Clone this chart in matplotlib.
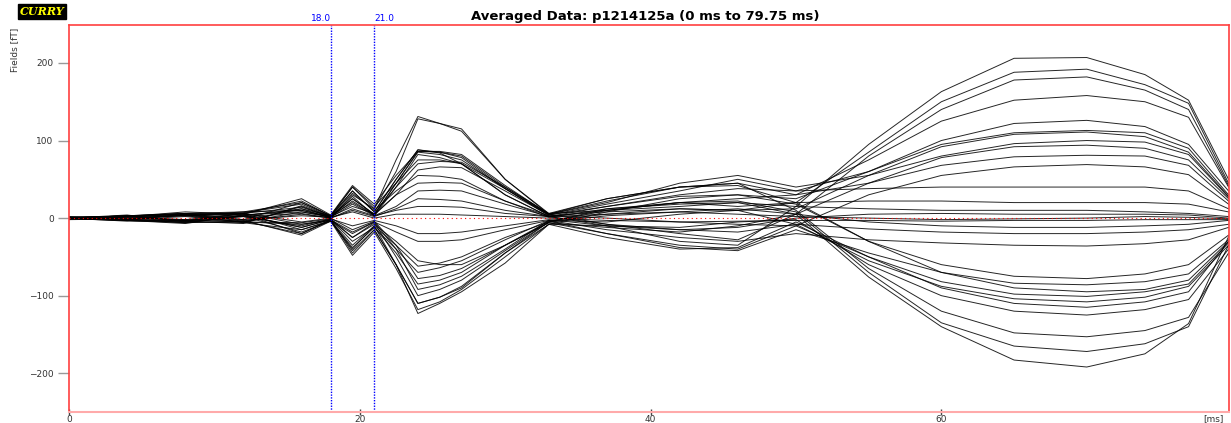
import numpy as np
import matplotlib
matplotlib.use("Agg")
import matplotlib.pyplot as plt

times = [0, 4, 8, 12, 16, 18, 19.5, 21, 22.5, 24, 25.5, 27, 30, 33, 37, 42, 46, 50, 55, 60, 65, 70, 74, 77, 79.75]

# field values (fT) per channel at the sample times
channels = [
    [0, 3, 6, -2, 20, 3, 35, 8, 50, 88, 84, 70, 30, 2, -10, -30, -35, 15, 95, 163, 206, 207, 185, 152, 50],
    [1, -2, 4, 6, -15, -4, -40, -10, -60, -110, -102, -90, -45, -5, 12, 20, 15, 20, 85, 150, 188, 192, 172, 148, 45],
    [0, 4, -5, 3, 12, 0, 30, 12, 75, 131, 122, 115, 50, 5, -8, -20, -28, 5, 80, 140, 178, 182, 165, 140, 42],
    [-1, 2, 8, 5, 25, 4, 42, 18, 55, 86, 85, 80, 40, 6, 25, 40, 45, 30, 75, 125, 152, 158, 150, 130, 40],
    [0, -3, -6, -4, -20, -2, -45, -15, -60, -123, -110, -95, -58, -8, 8, 25, 30, 25, 60, 100, 122, 126, 118, 95, 35],
    [0, 1, 3, 8, 10, 2, 25, 5, 45, 85, 82, 75, 38, 4, 18, 35, 50, 35, 60, 95, 110, 113, 110, 90, 30],
    [2, 0, -4, 6, -8, -3, -20, -5, -40, -92, -86, -75, -40, -3, -5, 5, 10, 12, 55, 92, 108, 111, 105, 85, 28],
    [0, 3, 5, -6, 15, 1, 28, 3, 40, 70, 73, 72, 40, 5, 20, 45, 55, 40, 55, 80, 96, 100, 98, 82, 27],
    [-2, -1, 4, 2, -10, -1, -25, -8, -30, -55, -60, -60, -35, -6, -12, -18, -10, 5, 45, 78, 92, 94, 90, 75, 25],
    [1, 2, -3, 4, 8, 2, 15, 6, 40, 82, 78, 70, 30, 2, 10, 20, 25, 30, 45, 68, 79, 81, 80, 68, 22],
    [0, -4, -2, 6, -5, 0, -15, -4, -35, -78, -74, -65, -35, -4, -20, -35, -40, -10, 30, 55, 66, 69, 66, 56, 18],
    [1, 2, 5, -4, 12, 3, 20, 4, 30, 62, 66, 65, 35, 4, 15, 30, 38, 35, 38, 40, 40, 40, 40, 35, 12],
    [0, -1, -6, 3, -12, -2, -30, -12, -40, -70, -64, -55, -28, -3, 5, 12, 10, 20, 22, 22, 20, 20, 20, 18, 8],
    [-1, 3, 4, 7, 18, 2, 32, 10, 35, 55, 54, 50, 22, 1, 12, 18, 20, 15, 12, 10, 10, 10, 8, 6, 2],
    [0, -2, 2, -5, -6, -1, -10, -3, -10, -20, -20, -18, -10, -2, -10, -15, -12, 0, 5, 6, 5, 5, 5, 4, 0],
    [1, 1, -3, 2, 6, 0, 10, 2, 12, 25, 24, 22, 10, 2, 5, 8, 5, 2, 0, -2, -1, 0, 2, 1, -1],
    [0, 2, 3, -2, 3, 1, 8, 0, 5, 5, 5, 4, 2, 0, -3, -5, -4, -3, -3, -4, -3, -3, -2, -2, -2],
    [-1, -3, -5, -6, -15, -3, -35, -10, -35, -62, -58, -50, -25, -5, 3, 8, 12, 5, -5, -10, -12, -12, -10, -8, -3],
    [0, 2, 6, 4, 10, 1, 18, 3, 10, 15, 15, 14, 6, 2, -8, -15, -18, -8, -14, -18, -20, -20, -18, -15, -8],
    [1, -2, -3, -5, -8, -2, -18, -5, -18, -30, -30, -28, -15, -3, -15, -25, -30, -20, -28, -32, -35, -36, -33, -28, -12],
    [0, 3, 6, 8, 20, 3, 40, 15, 45, 75, 75, 70, 38, 5, 25, 40, 42, 20, -30, -60, -75, -78, -72, -60, -22],
    [-1, -3, -5, 2, -18, -4, -38, -12, -45, -85, -80, -70, -35, -6, -20, -38, -42, -15, -45, -70, -84, -86, -82, -72, -28],
    [0, 2, -2, -4, 5, 0, 12, 3, 15, 35, 36, 35, 18, 2, 15, 28, 30, 18, -30, -70, -90, -95, -92, -80, -30],
    [1, -1, 4, 5, -20, -3, -42, -15, -60, -110, -102, -88, -45, -8, -25, -40, -38, -5, -50, -82, -98, -101, -95, -85, -32],
    [0, 3, -4, 6, 14, 2, 35, 8, 50, 88, 85, 78, 38, 3, 8, 12, 10, -8, -55, -88, -104, -108, -102, -88, -35],
    [0, -2, 5, -3, -22, -4, -48, -18, -65, -118, -108, -92, -50, -8, -10, -12, -5, -2, -60, -100, -120, -125, -118, -105, -40],
    [1, 2, 3, -5, 8, 1, 22, 4, 45, 86, 86, 82, 42, 5, 22, 40, 45, 10, -65, -120, -148, -153, -145, -128, -45],
    [0, -3, -7, 4, -12, -2, -25, -6, -50, -100, -92, -80, -42, -5, 10, 20, 22, 8, -70, -135, -165, -172, -162, -140, -35],
    [-1, 2, 6, 6, 22, 3, 40, 12, 60, 128, 122, 112, 50, 6, 10, 15, 20, 5, -76, -140, -183, -192, -175, -136, -24],
    [0, -2, -4, -7, 16, 2, 25, 5, 30, 45, 46, 45, 22, 3, 0, -5, -8, -10, -50, -90, -110, -115, -108, -95, -30],
]

cursor_times = [18.0, 21.0]
xtick_vals = [0, 20, 40, 60]
ytick_vals = [-200, -100, 0, 100, 200]
title = "Averaged Data: p1214125a (0 ms to 79.75 ms)"

fig = plt.figure(figsize=(12.31, 4.23), dpi=100)
ax = fig.add_axes([0.056, 0.026, 0.942, 0.915])

for ch in channels:
    ax.plot(times, ch, color="black", lw=0.7, alpha=0.85)

ax.axhline(0, color="red", lw=0.8, ls=(0, (1, 3)))
for ct in cursor_times:
    ax.axvline(ct, color="blue", lw=1.0, ls=(0, (1, 1)))

ax.set_xlim(0, 79.75)
ax.set_ylim(-250, 249)

for side in ["left", "right", "top"]:
    ax.spines[side].set_color("#ff4040")
    ax.spines[side].set_linewidth(1.2)
ax.spines["bottom"].set_color("#ffaaaa")
ax.spines["bottom"].set_linewidth(1.5)

ax.set_yticks(ytick_vals)
ax.set_yticklabels([str(v).replace("-", "\u2212") for v in ytick_vals])
ax.set_xticks(xtick_vals)
ax.tick_params(axis="y", direction="out", length=8, width=1, color="#999999",
               labelsize=6.5, labelcolor="#333333", pad=3)
ax.tick_params(axis="x", direction="inout", length=5, width=1, color="#444444",
               labelsize=6.5, labelcolor="#333333", pad=0)

# cursor labels above the plot
ax.text(18.0, 251, "18.0", color="blue", fontsize=6.5, ha="right", va="bottom")
ax.text(21.0, 251, "21.0", color="blue", fontsize=6.5, ha="left", va="bottom")

fig.text(0.524, 0.962, title, ha="center", va="center", fontsize=9.5,
         fontweight="bold")
fig.text(0.012, 0.935, "Fields [fT]", rotation=90, ha="center", va="top",
         fontsize=6.5, color="#333333")
fig.text(0.9855, 0.011, "[ms]", ha="center", va="center", fontsize=6.5,
         color="#333333")
fig.text(0.034, 0.973, "CURRY", ha="center", va="center", fontsize=8,
         family="DejaVu Serif", style="italic", fontweight="bold", color="yellow",
         bbox=dict(facecolor="black", edgecolor="black", boxstyle="square,pad=0.15"))

fig.savefig("out.png", dpi=100)
